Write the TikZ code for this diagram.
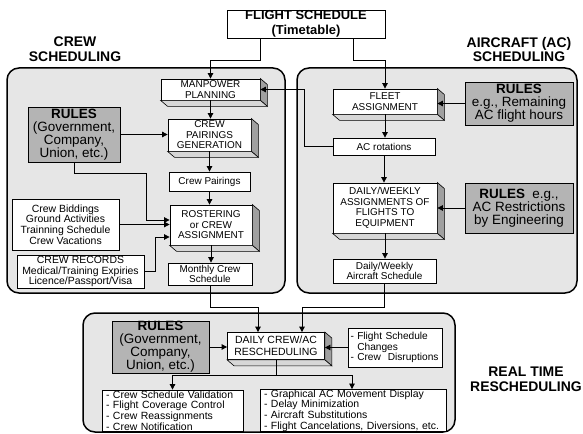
\documentclass[tikz,border=0pt]{standalone}
\usepackage{fontspec}
\setmainfont{Liberation Sans}
\usetikzlibrary{arrows.meta}
\definecolor{panelgray}{RGB}{230,230,230}
\definecolor{rulesgray}{RGB}{180,180,180}
\definecolor{sidegray}{RGB}{160,160,160}
\definecolor{botgray}{RGB}{215,215,215}
% extruded right and bottom faces of a 3-D process box
\newcommand\depthfaces[1]{%
  \filldraw[fill=sidegray,line width=0.6bp] (#1.north east) -- ([shift={(7,6)}]#1.north east)
     -- ([shift={(7,6)}]#1.south east) -- (#1.south east) -- cycle;
  \filldraw[fill=botgray,line width=0.6bp] (#1.south west) -- ([shift={(7,6)}]#1.south west)
     -- ([shift={(7,6)}]#1.south east) -- (#1.south east) -- cycle;}
\tikzset{
  sz/.style 2 args={minimum width=#1bp,minimum height=#2bp},
  box/.style={draw,fill=white,line width=0.8bp,inner sep=0pt,align=center,
              font=\fontsize{10}{10.5}\selectfont},
  rulesbox/.style={draw,fill=rulesgray,line width=0.8bp,inner sep=0pt,align=center,
              font=\fontsize{13.5}{13}\selectfont},
  listbox/.style={draw,fill=white,line width=0.8bp,inner xsep=4bp,inner ysep=0pt,
              align=left,font=\fontsize{10.5}{10.8}\selectfont},
  panel/.style={draw,fill=panelgray,line width=1.5bp,rounded corners=12bp},
  heading/.style={align=center,font=\fontsize{14}{15}\selectfont\bfseries},
  arr/.style={-{Triangle[length=5.5bp,width=5.5bp]},line width=0.8bp},
  link/.style={line width=0.8bp}
}
\begin{document}
\begin{tikzpicture}[x=1bp,y=-1bp]
\useasboundingbox (0,0) rectangle (583,434);
\fill[white] (0,0) rectangle (583,434);

% group panels
\draw[panel] (7,68) rectangle (285,293);
\draw[panel] (297,68) rectangle (577,293);
\draw[panel] (83,313) rectangle (455,432);

% headings
\node[heading] (hcrew) at (75,49) {CREW\\SCHEDULING};
\node[heading] (hac) at (519,49.5) {AIRCRAFT (AC)\\SCHEDULING};
\node[heading] (hrt) at (526,379.5) {REAL TIME\\RESCHEDULING};

% timetable
\node[box,sz={158}{28},font=\fontsize{13}{14.5}\selectfont\bfseries] (flight) at (306,24)
  {FLIGHT SCHEDULE\\(Timetable)};

% crew scheduling
\node[box,sz={99}{21}] (mp) at (210.5,89.5) {MANPOWER\\PLANNING};
\node[box,sz={83}{32}] (cpg) at (209.5,135) {CREW\\PAIRINGS\\GENERATION};
\node[box,sz={81}{19}] (cp) at (209.5,181.5) {Crew Pairings};
\node[box,sz={82}{40}] (ros) at (211,225) {ROSTERING\\or CREW\\ASSIGNMENT};
\node[box,sz={84}{22},font=\fontsize{10}{8}\selectfont] (mon) at (210,274) {Monthly Crew\\Schedule};
\node[rulesbox,sz={92}{55}] (rc) at (74,134.5)
  {\textbf{RULES}\\(Government,\\Company,\\Union, etc.)};
\node[box,sz={107}{51},font=\fontsize{10.5}{10.7}\selectfont] (cb) at (65.5,224.5)
  {Crew Biddings\\Ground Activities\\Trainning Schedule\\Crew Vacations};
\node[box,sz={127}{33},font=\fontsize{10.5}{10.2}\selectfont] (cr) at (80.5,271.5)
  {CREW RECORDS\\Medical/Training Expiries\\Licence/Passport/Visa};

% aircraft scheduling
\node[box,sz={104}{25}] (fleet) at (385,101.5) {FLEET\\ASSIGNMENT};
\node[box,sz={102}{17}] (acr) at (384,146.5) {AC rotations};
\node[box,sz={104}{50}] (dw) at (385,208)
  {DAILY/WEEKLY\\ASSIGNMENTS OF\\FLIGHTS TO\\EQUIPMENT};
\node[box,sz={103}{24}] (dwas) at (384.5,271) {Daily/Weekly\\Aircraft Schedule};
\node[rulesbox,sz={108}{43}] (ra1) at (519,103.5)
  {\textbf{RULES}\\e.g., Remaining\\AC flight hours};
\node[rulesbox,sz={108}{50}] (ra2) at (519,208)
  {\textbf{RULES}\ \ e.g.,\\AC Restrictions\\by Engineering};

% real time rescheduling
\node[box,sz={97}{27},font=\fontsize{10.5}{12}\selectfont] (dc) at (276,346)
  {DAILY CREW/AC\\RESCHEDULING};
\node[rulesbox,sz={97}{52}] (rrt) at (160.5,347)
  {\textbf{RULES}\\(Government,\\Company,\\Union, etc.)};
\node[listbox,inner xsep=2.5bp,text width=89bp,minimum height=39bp,
      font=\fontsize{10.2}{10.5}\selectfont] (fsc) at (395,347.5)
  {- Flight Schedule\\\phantom{-} Changes\\- Crew\ \ Disruptions};
\node[listbox,text width=133bp,minimum height=41bp] (lb) at (172.5,410.5)
  {- Crew Schedule Validation\\- Flight Coverage Control\\- Crew Reassignments\\- Crew Notification};
\node[listbox,text width=178bp,minimum height=41bp] (rb) at (353,410.5)
  {- Graphical AC Movement Display\\- Delay Minimization\\- Aircraft Substitutions\\- Flight Cancelations, Diversions, etc.};

% extruded faces of the process boxes
\depthfaces{mp}
\depthfaces{cpg}
\depthfaces{ros}
\depthfaces{fleet}
\depthfaces{dw}
\depthfaces{dc}

% connectors
\draw[arr] ([xshift=-46bp]flight.south) -- ++(0,22) -| (mp.north);
\draw[arr] ([xshift=47bp]flight.south) -- ++(0,22) -| (fleet.north);

\draw[arr] (mp.south) -- (mp.south |- cpg.north);
\draw[arr] (rc.east) -- (rc.east -| cpg.west);
\draw[arr] (cpg.south) -- (cpg.south |- cp.north);
\draw[arr] (cp.south) -- (cp.south |- ros.north);
\draw[arr] (rc.south) -- ++(0,11) -- ++(72,0) |- ([yshift=5bp]ros.west);
\draw[arr] (cb.east) -- (cb.east -| ros.west);
\draw[arr] (cr.east) -- ++(11,0) |- ([yshift=-12bp]ros.west);
\draw[arr] (ros.south) -- (ros.south |- mon.north);

\draw[arr] (fleet.south) -- (fleet.south |- acr.north);
\draw[arr] (ra1.west) -- (ra1.west -| fleet.east);
\draw[arr] (acr.west) -- ++(-28,0) |- (mp.east);
\draw[arr] (acr.south) -- (acr.south |- dw.north);
\draw[arr] (ra2.west) -- (ra2.west -| dw.east);
\draw[arr] (dw.south) -- (dw.south |- dwas.north);

\draw[arr] (mon.south) -- ++(0,22) -| ([xshift=-18bp]dc.north);
\draw[arr] (dwas.south) -- ++(0,24) -| ([xshift=26bp]dc.north);

\draw[arr] (rrt.east) -- (rrt.east -| dc.west);
\draw[arr] (fsc.west) -- (fsc.west -| dc.east);
\draw[link] (dc.south) -- ++(0,15) coordinate (branch);
\draw[arr] (branch) -| (lb.north);
\draw[arr] (branch) -| ([xshift=-1bp]rb.north);
\end{tikzpicture}
\end{document}
